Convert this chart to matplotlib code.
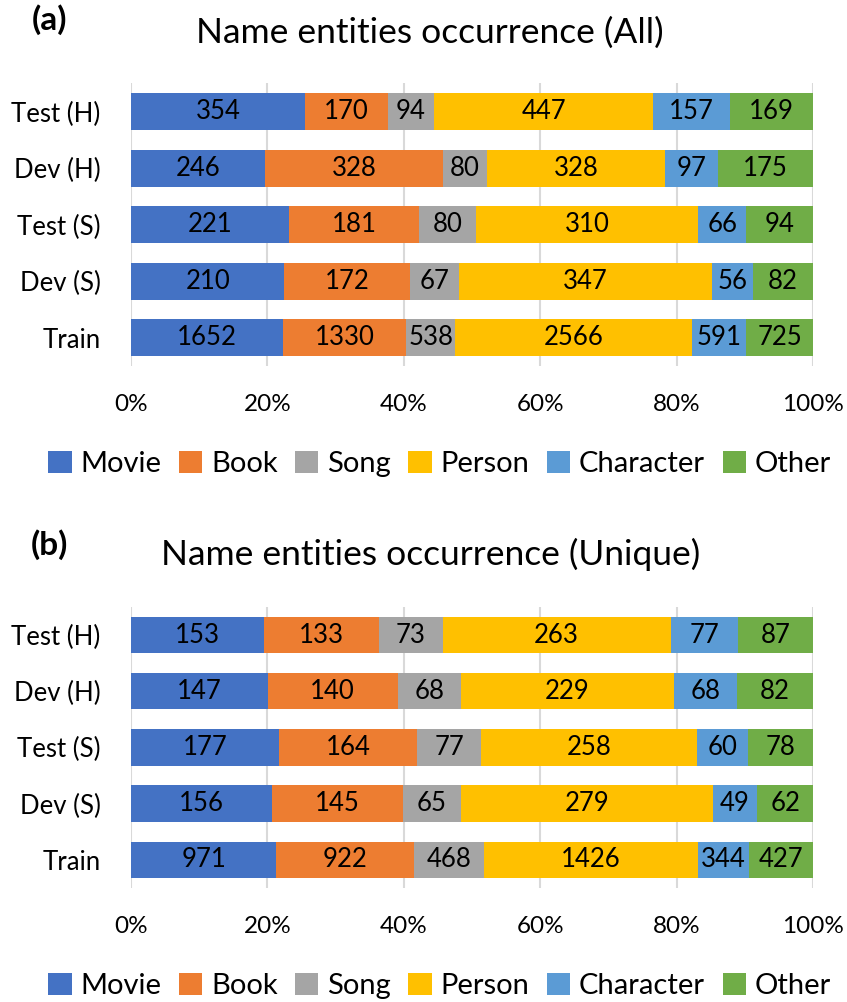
import matplotlib
matplotlib.use("Agg")
import matplotlib.pyplot as plt
import numpy as np

plt.rcParams['font.family'] = ['Lato', 'DejaVu Sans']

rows = ["Train", "Dev (S)", "Test (S)", "Dev (H)", "Test (H)"]
categories = ["Movie", "Book", "Song", "Person", "Character", "Other"]
colors = ["#4472C4", "#ED7D31", "#A5A5A5", "#FFC000", "#5B9BD5", "#70AD47"]

# rows order: Train, Dev (S), Test (S), Dev (H), Test (H)
all_movie = [1652, 210, 221, 246, 354]
all_book = [1330, 172, 181, 328, 170]
all_song = [538, 67, 80, 80, 94]
all_person = [2566, 347, 310, 328, 447]
all_character = [591, 56, 66, 97, 157]
all_other = [725, 82, 94, 175, 169]

uniq_movie = [971, 156, 177, 147, 153]
uniq_book = [922, 145, 164, 140, 133]
uniq_song = [468, 65, 77, 68, 73]
uniq_person = [1426, 279, 258, 229, 263]
uniq_character = [344, 49, 60, 68, 77]
uniq_other = [427, 62, 78, 82, 87]

xticklabels = ["0%", "20%", "40%", "60%", "80%", "100%"]

fig = plt.figure(figsize=(8.47, 10.02), dpi=100)


def draw(ax, series, title, tag, tag_y, title_y):
    data = np.array(series, dtype=float)
    totals = data.sum(axis=0)
    pct = data / totals * 100
    y = np.arange(len(rows))
    left = np.zeros(len(rows))
    handles = []
    for i, cat in enumerate(categories):
        b = ax.barh(y, pct[i], left=left, height=0.65, color=colors[i],
                    label=cat, zorder=3)
        handles.append(b)
        for j in range(len(rows)):
            ax.text(left[j] + pct[i][j] / 2, y[j], str(int(data[i][j])),
                    ha="center", va="center", fontsize=18.5, color="black",
                    zorder=4)
        left += pct[i]
    ax.set_xlim(0, 100)
    ax.set_ylim(-0.5, len(rows) - 0.5)
    ax.set_xticks([0, 20, 40, 60, 80, 100])
    ax.set_xticklabels(xticklabels, fontsize=17.5)
    ax.set_yticks(y)
    ax.set_yticklabels(rows, fontsize=18.5)
    ax.tick_params(axis="y", length=0, pad=22)
    ax.tick_params(axis="x", length=0, pad=20)
    for s in ax.spines.values():
        s.set_visible(False)
    ax.grid(axis="x", color="#D9D9D9", linewidth=1.5, zorder=0)
    ax.set_axisbelow(True)
    fig.text(0.508, title_y, title, ha="center", va="center", fontsize=25.5)
    fig.text(0.058, tag_y, tag, ha="center", va="center", fontsize=24,
             fontweight="bold")
    return handles


ax1 = fig.add_axes([0.1547, 0.6347, 0.8053, 0.2820])
h = draw(ax1, [all_movie, all_book, all_song, all_person, all_character, all_other],
         "Name entities occurrence (All)", "(a)", 1 - 20 / 1002, 1 - 33 / 1002)
ax1.legend(handles=h, labels=categories, loc="center", ncol=6,
           bbox_to_anchor=(0.519, 1 - 464 / 1002), bbox_transform=fig.transFigure,
           frameon=False, fontsize=21, handlelength=0.8, handleheight=0.8,
           handletextpad=0.3, columnspacing=0.6)

ax2 = fig.add_axes([0.1547, 0.1138, 0.8053, 0.2805])
h = draw(ax2, [uniq_movie, uniq_book, uniq_song, uniq_person, uniq_character, uniq_other],
         "Name entities occurrence (Unique)", "(b)", 1 - 545 / 1002, 1 - 554 / 1002)
ax2.legend(handles=h, labels=categories, loc="center", ncol=6,
           bbox_to_anchor=(0.519, 1 - 986 / 1002), bbox_transform=fig.transFigure,
           frameon=False, fontsize=21, handlelength=0.8, handleheight=0.8,
           handletextpad=0.3, columnspacing=0.6)

fig.savefig("out.png", dpi=100)
